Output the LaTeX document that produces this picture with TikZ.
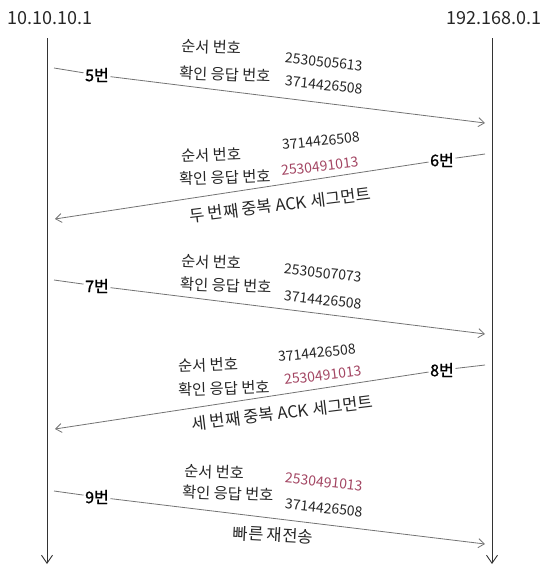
\documentclass[tikz,border=0pt]{standalone}
\usepackage{fontspec}
\setmainfont{Noto Sans CJK KR}
\newfontfamily\tagfont[FakeBold=1.2]{Noto Sans CJK KR}
\usetikzlibrary{arrows.meta}
\definecolor{msgline}{HTML}{737373}
\definecolor{lifeline}{HTML}{333333}
\definecolor{ackred}{HTML}{A34663}
\tikzset{
  host/.style={font=\fontsize{18}{20}\selectfont, inner sep=0pt, text=black!85},
  kor/.style={font=\fontsize{15.3}{17}\selectfont, inner sep=0pt, anchor=west, text=black!85},
  num/.style={font=\fontsize{14}{16}\selectfont, inner sep=0pt, anchor=west, text=black!85},
  rednum/.style={num, text=ackred},
  tag/.style={font=\tagfont\fontsize{16}{18}\selectfont, inner sep=1.5pt, text=black},
  note/.style={font=\fontsize{16.5}{18}\selectfont, inner sep=0pt, text=black!85},
  msg/.style={draw=msgline, line width=0.8pt},
  msgarrow/.style={msg, -{Straight Barb[length=6pt,width=9pt]}},
  life/.style={draw=lifeline, line width=0.9pt, -{Straight Barb[length=8pt,width=11pt]}}
}
\begin{document}
\begin{tikzpicture}[x=1pt,y=-1pt]
\useasboundingbox (0,0) rectangle (550,573);

% hosts and lifelines
\node[host] (hostL) at (50,18) {10.10.10.1};
\node[host] (hostR) at (494,18) {192.168.0.1};
\coordinate (Ltop) at (47,38);
\coordinate (Lbot) at (47,564);
\coordinate (Rtop) at (492,38);
\coordinate (Rbot) at (492,564);
\draw[life] (Ltop) -- (Lbot);
\draw[life] (Rtop) -- (Rbot);

% message 5
\coordinate (s5) at (54,68);
\node[tag] (t5) at (97,75) {5번};
\coordinate (e5) at (485,123);
\draw[msg] (s5) -- (t5);
\draw[msgarrow] (t5) -- (e5);
\node[kor, rotate=-2] (a5) at (181,46) {순서 번호};
\node[kor, rotate=-2] (b5) at (179,73) {확인 응답 번호};
\node[num, rotate=-6] (c5) at (285,58) {2530505613};
\node[num, rotate=-6] (d5) at (285,81) {3714426508};

% message 6
\coordinate (s6) at (485,154);
\node[tag] (t6) at (442,160) {6번};
\coordinate (e6) at (55,219);
\draw[msg] (s6) -- (t6);
\draw[msgarrow] (t6) -- (e6);
\node[num, rotate=6] (c6) at (282,145) {3714426508};
\node[kor, rotate=2] (a6) at (181,156) {순서 번호};
\node[kor, rotate=2] (b6) at (179,179) {확인 응답 번호};
\node[rednum, rotate=7] (d6) at (281,171) {2530491013};
\node[note, rotate=7] (n6) at (280,205) {두 번째 중복 ACK 세그먼트};

% message 7
\coordinate (s7) at (54,280);
\node[tag] (t7) at (97,286) {7번};
\coordinate (e7) at (485,334);
\draw[msg] (s7) -- (t7);
\draw[msgarrow] (t7) -- (e7);
\node[kor, rotate=-2] (a7) at (181,261) {순서 번호};
\node[kor, rotate=-2] (b7) at (180,284) {확인 응답 번호};
\node[num, rotate=-6] (c7) at (284,269) {2530507073};
\node[num, rotate=-6] (d7) at (284,296) {3714426508};

% message 8
\coordinate (s8) at (485,365);
\node[tag] (t8) at (442,370) {8번};
\coordinate (e8) at (55,429);
\draw[msg] (s8) -- (t8);
\draw[msgarrow] (t8) -- (e8);
\node[num, rotate=6] (c8) at (278,357) {3714426508};
\node[kor, rotate=2] (a8) at (178,366) {순서 번호};
\node[kor, rotate=2] (b8) at (178,390) {확인 응답 번호};
\node[rednum, rotate=7] (d8) at (284,380) {2530491013};
\node[note, rotate=7] (n8) at (282,413) {세 번째 중복 ACK 세그먼트};

% message 9
\coordinate (s9) at (54,491);
\node[tag] (t9) at (97,497) {9번};
\coordinate (e9) at (485,544);
\draw[msg] (s9) -- (t9);
\draw[msgarrow] (t9) -- (e9);
\node[kor, rotate=-2] (a9) at (184,471) {순서 번호};
\node[kor, rotate=-2] (b9) at (182,492) {확인 응답 번호};
\node[rednum, rotate=-6] (c9) at (285,478) {2530491013};
\node[num, rotate=-6] (d9) at (285,504) {3714426508};
\node[note, rotate=-3] (n9) at (273,535) {빠른 재전송};
\end{tikzpicture}
\end{document}
